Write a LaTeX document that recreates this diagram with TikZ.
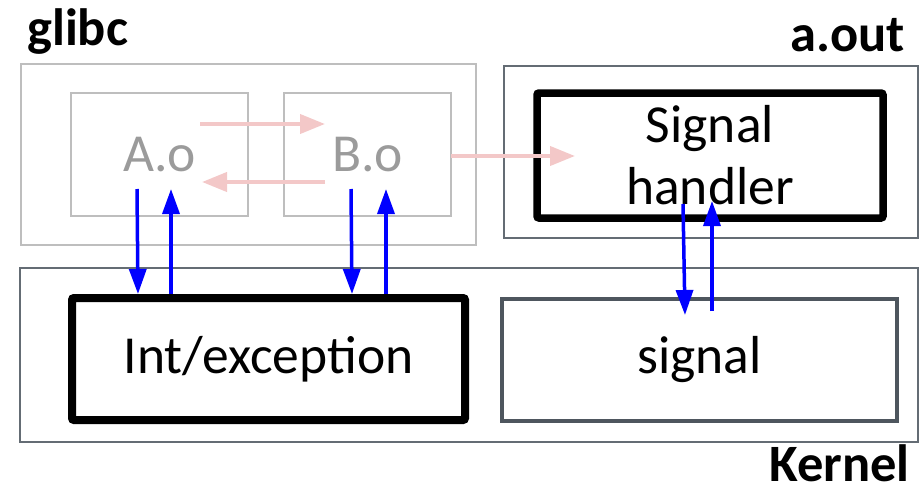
\documentclass[tikz,border=0pt]{standalone}
\usepackage{fontspec}
\setmainfont{Carlito}
\usetikzlibrary{arrows.meta}
\definecolor{lightframe}{RGB}{190,190,190}
\definecolor{slate}{RGB}{100,108,116}
\definecolor{darkslate}{RGB}{78,86,94}
\definecolor{faint}{RGB}{155,155,155}
\definecolor{pinkline}{RGB}{243,200,200}
\begin{document}
\begin{tikzpicture}[x=1pt,y=-1pt,
  every node/.style={font=\fontsize{53.5}{62}\selectfont},
  box/.style={draw, rectangle, inner sep=0pt},
  lightbox/.style={box, line width=2pt, draw=lightframe},
  outerbox/.style={box, line width=2pt, draw=slate},
  heavybox/.style={box, line width=7.5pt, draw=black, rounded corners=2pt},
  title/.style={font=\fontsize{52.5}{60}\selectfont\bfseries, inner sep=0pt},
  pinkarrow/.style={draw=pinkline, line width=4pt, -{Triangle[length=25pt,width=19pt]}},
  bluearrow/.style={draw=blue, line width=3.5pt, -{Triangle[length=25pt,width=17pt]}}
]
\useasboundingbox (0,0) rectangle (922,490);

% user-space library
\node[lightbox, minimum width=455pt, minimum height=181pt] (glibc) at (248.5,154.5) {};
\node[lightbox, minimum width=177pt, minimum height=123pt, text=faint] (A) at (159.5,154.5) {A.o};
\node[lightbox, minimum width=167pt, minimum height=123pt, text=faint] (B) at (367.5,154.5) {B.o};

% program
\node[outerbox, minimum width=414pt, minimum height=172pt] (aout) at (711,152) {};
\node[heavybox, minimum width=346pt, minimum height=125pt, align=center] (handler) at (710,155.5) {Signal\\handler};

% kernel
\node[outerbox, minimum width=898pt, minimum height=174pt] (kernel) at (469,355) {};
\node[heavybox, line width=8pt, minimum width=393pt, minimum height=122pt] (intexc) at (268.5,359) {Int/exception};
\node[box, line width=4pt, draw=darkslate, minimum width=395pt, minimum height=122pt] (signal) at (699.5,360) {signal};

% titles
\node[title, anchor=base west] (glibclabel) at (27,45) {glibc};
\node[title, anchor=base east] (aoutlabel) at (905,51) {a.out};
\node[title, anchor=base east] (kernellabel) at (910,481) {Kernel};

% end points of the calls
\coordinate (abStart) at (200,124);
\coordinate (abEnd) at (325,124);
\coordinate (baStart) at (325,182);
\coordinate (baEnd) at (202,182);
\coordinate (bhStart) at (451,156);
\coordinate (bhEnd) at (575,156);

\coordinate (aDownTop) at (137,189);
\coordinate (aDownEnd) at (138,294);
\coordinate (aUpStart) at (171,294);
\coordinate (aUpEnd) at (171,189);
\coordinate (bDownTop) at (351,189);
\coordinate (bDownEnd) at (352,294);
\coordinate (bUpStart) at (386,294);
\coordinate (bUpEnd) at (386,189);
\coordinate (hDownTop) at (683,204);
\coordinate (hDownEnd) at (685,315);
\coordinate (hUpStart) at (712,311);
\coordinate (hUpEnd) at (712,201);

% library-internal calls
\draw[pinkarrow] (abStart) -- (abEnd);
\draw[pinkarrow] (baStart) -- (baEnd);
\draw[pinkarrow] (bhStart) -- (bhEnd);

% kernel entries and returns
\draw[bluearrow] (aDownTop) -- (aDownEnd);
\draw[bluearrow] (aUpStart) -- (aUpEnd);
\draw[bluearrow] (bDownTop) -- (bDownEnd);
\draw[bluearrow] (bUpStart) -- (bUpEnd);
\draw[bluearrow] (hDownTop) -- (hDownEnd);
\draw[bluearrow] (hUpStart) -- (hUpEnd);
\end{tikzpicture}
\end{document}
